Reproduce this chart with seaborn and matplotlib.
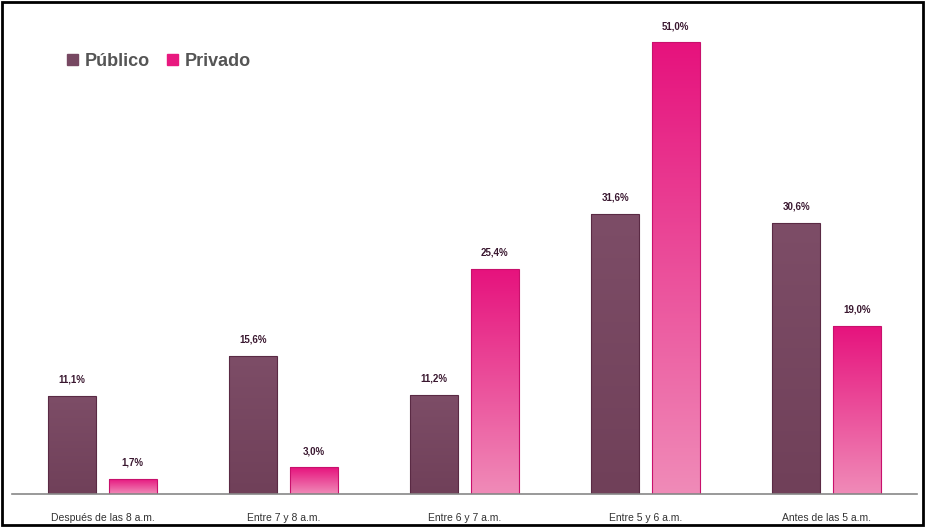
import matplotlib
matplotlib.use("Agg")
import matplotlib.pyplot as plt
import numpy as np
import pandas as pd
import seaborn as sns
from matplotlib.colors import LinearSegmentedColormap
from matplotlib.patches import Rectangle

# Data
categories = ["Después de las 8 a.m.", "Entre 7 y 8 a.m.", "Entre 6 y 7 a.m.",
              "Entre 5 y 6 a.m.", "Antes de las 5 a.m."]
publico = [11.1, 15.6, 11.2, 31.6, 30.6]
privado = [1.7, 3.0, 25.4, 51.0, 19.0]
series = ["Público", "Privado"]

df = pd.DataFrame({
    "cat": categories * 2,
    "serie": [series[0]] * len(categories) + [series[1]] * len(categories),
    "valor": publico + privado,
})

sns.set_style("white")
plt.rcParams["font.family"] = ["Liberation Sans", "DejaVu Sans"]

fig = plt.figure(figsize=(9.27, 5.28), dpi=100)
ax = fig.add_axes([12 / 927, 34 / 528, 905 / 927, 489 / 528])

colors = {"Público": "#774862", "Privado": "#e8197f"}
sns.barplot(data=df, x="cat", y="valor", hue="serie", order=categories,
            hue_order=series, palette=colors, width=0.67, gap=0.21,
            ax=ax, legend=False, edgecolor="none")

# gradient fill for each bar
grad = {
    "Público": LinearSegmentedColormap.from_list("pub", ["#704059", "#7d4d67"]),
    "Privado": LinearSegmentedColormap.from_list("pri", ["#f08bb8", "#e6127d"]),
}
ramp = np.linspace(0, 1, 256).reshape(-1, 1)
for container, name in zip(ax.containers, series):
    for bar in container:
        x0, y0 = bar.get_x(), bar.get_y()
        w, h = bar.get_width(), bar.get_height()
        im = ax.imshow(ramp, cmap=grad[name], aspect="auto", origin="lower",
                       extent=[x0, x0 + w, y0, y0 + h], zorder=bar.get_zorder() + 0.1)
        im.set_clip_path(bar)
        ax.add_patch(Rectangle((x0, y0), w, h, fill=False,
                               edgecolor="#5a2a44" if name == "Público" else "#c8106c",
                               linewidth=0.8, zorder=bar.get_zorder() + 0.2))
    labels = [f"{v:.1f}%".replace(".", ",") for v in container.datavalues]
    ax.bar_label(container, labels=labels, padding=8, fontsize=7,
                 fontweight="bold", color="#3a1830")

ax.set_xlim(-0.5, 4.5)
ax.set_ylim(0, 55.2)
ax.set_xlabel("")
ax.set_ylabel("")
ax.set_yticks([])
ax.tick_params(axis="x", length=0, pad=14, labelsize=7.5, labelcolor="#333333")
for side in ["top", "right", "left"]:
    ax.spines[side].set_visible(False)
ax.spines["bottom"].set_color("#888888")
ax.spines["bottom"].set_linewidth(1.2)

# legend
handles = [Rectangle((0, 0), 1, 1, color=colors[s]) for s in series]
ax.legend(handles, series, loc="upper left", bbox_to_anchor=(0.043, 0.935),
          ncol=2, frameon=False, handlelength=0.6, handleheight=0.6,
          handletextpad=0.35, columnspacing=1.0,
          prop={"weight": "bold", "size": 13})
for t in ax.get_legend().get_texts():
    t.set_color("#555555")

# outer frame
fig.patches.append(Rectangle((0.002, 0.006), 0.994, 0.99, transform=fig.transFigure,
                             fill=False, edgecolor="black", linewidth=2))

fig.savefig("out.png", dpi=100)
